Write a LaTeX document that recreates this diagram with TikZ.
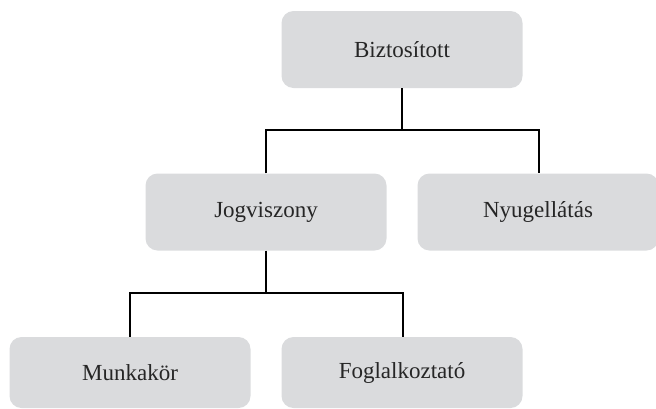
\documentclass[tikz,border=0pt]{standalone}
\usepackage{fontspec}
\setmainfont{Liberation Serif}
\definecolor{boxgray}{HTML}{DADBDD}
\begin{document}
\begin{tikzpicture}[x=1pt,y=-1pt,
  box/.style={fill=boxgray, draw=none, rounded corners=12pt, minimum width=241pt, minimum height=77pt, inner sep=0pt, text=black!85, font=\fontsize{23}{27}\selectfont},
  lowbox/.style={box, minimum height=71pt},
  link/.style={draw=black, line width=1.6pt}]
\useasboundingbox (0,0) rectangle (656,408);
\node[box] (biz) at (402,49.5) {Biztosított};
\node[box] (jog) at (266,212) {Jogviszony};
\node[box] (nyu) at (538,212) {Nyugellátás};
\node[lowbox] (mun) at (130,372.5) {Munkakör};
\node[lowbox] (fog) at (402,372.5) {Foglalkoztató};
\coordinate (j1) at (402,130);
\coordinate (j2) at (266,293);
\draw[link] (biz.south) -- (j1);
\draw[link] (jog.north) |- (j1) -| ([xshift=1pt]nyu.north);
\draw[link] (jog.south) -- (j2);
\draw[link] (mun.north) |- (j2) -| ([xshift=1pt]fog.north);
\end{tikzpicture}
\end{document}
